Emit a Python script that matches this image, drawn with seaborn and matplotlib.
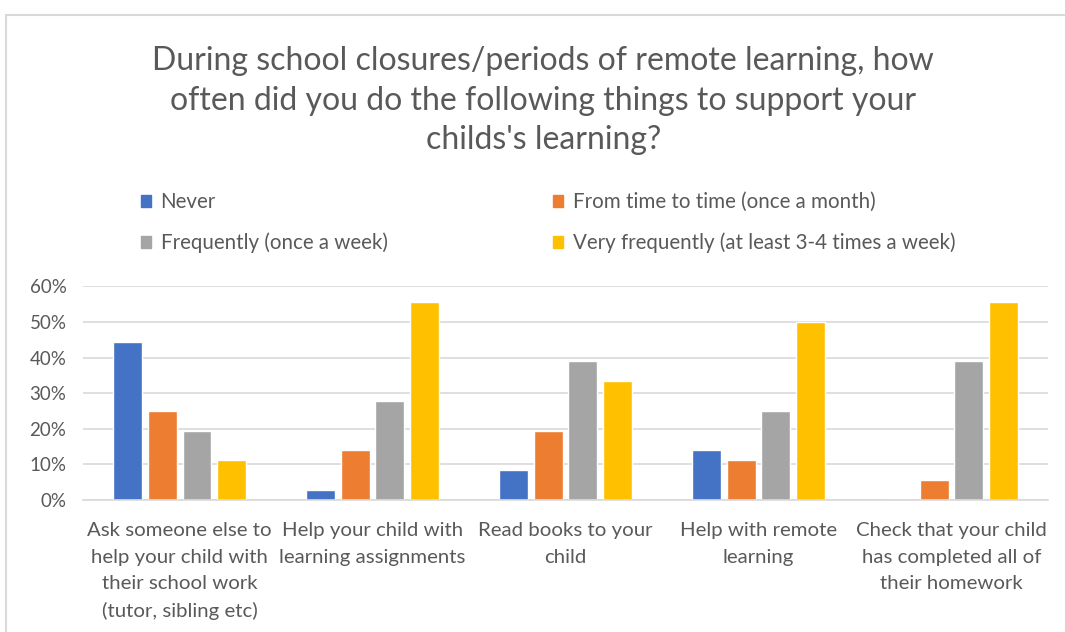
import matplotlib.pyplot as plt
import matplotlib.patches as mpatches
import matplotlib.ticker as mticker
import pandas as pd
import seaborn as sns

# data (shares of respondents)
activities = [
    "Ask someone else to\nhelp your child with\ntheir school work\n(tutor, sibling etc)",
    "Help your child with\nlearning assignments",
    "Read books to your\nchild",
    "Help with remote\nlearning",
    "Check that your child\nhas completed all of\ntheir homework",
]
frequencies = [
    "Never",
    "From time to time (once a month)",
    "Frequently (once a week)",
    "Very frequently (at least 3-4 times a week)",
]
never = [0.444, 0.028, 0.083, 0.139, 0.0]
from_time_to_time = [0.25, 0.139, 0.194, 0.111, 0.056]
frequently = [0.194, 0.278, 0.389, 0.25, 0.389]
very_frequently = [0.111, 0.556, 0.333, 0.50, 0.556]

colors = ["#4472C4", "#ED7D31", "#A5A5A5", "#FFC000"]
text_color = "#595959"
grid_color = "#D9D9D9"

series = [never, from_time_to_time, frequently, very_frequently]
rows = []
for freq, vals in zip(frequencies, series):
    for act, v in zip(activities, vals):
        rows.append({"activity": act, "frequency": freq, "share": v})
df = pd.DataFrame(rows)

sns.set_style("white")
plt.rcParams["font.family"] = ["Lato", "DejaVu Sans"]

fig = plt.figure(figsize=(10.65, 6.32), dpi=100)
ax = fig.add_axes([0.078, 0.209, 0.906, 0.338])

sns.barplot(
    data=df,
    x="activity",
    y="share",
    hue="frequency",
    hue_order=frequencies,
    palette=colors,
    saturation=1,
    width=0.72,
    gap=0.17,
    errorbar=None,
    ax=ax,
)

ax.set_ylim(0, 0.6)
ax.set_xlim(-0.5, 4.5)
ax.yaxis.set_major_locator(mticker.MultipleLocator(0.1))
ax.yaxis.set_major_formatter(mticker.PercentFormatter(1.0, decimals=0))
ax.grid(axis="y", color=grid_color, linewidth=1.2)
ax.set_axisbelow(True)
for side in ["top", "right", "left"]:
    ax.spines[side].set_visible(False)
ax.spines["bottom"].set_color(grid_color)
ax.spines["bottom"].set_linewidth(1.2)

ax.set_xlabel("")
ax.set_ylabel("")
ax.tick_params(axis="both", length=0, labelcolor=text_color)
ax.tick_params(axis="y", pad=12, labelsize=13.5)
ax.tick_params(axis="x", pad=16, labelsize=14.7)
for lbl in ax.get_xticklabels():
    lbl.set_horizontalalignment("center")
    lbl.set_linespacing(1.67)

ax.get_legend().remove()

handles = [mpatches.Patch(color=c) for c in colors]
leg_kw = dict(
    frameon=False,
    fontsize=14.8,
    labelcolor=text_color,
    handlelength=0.5,
    handleheight=0.5,
    handletextpad=0.45,
    labelspacing=1.0,
    loc="upper left",
)
leg1 = fig.legend([handles[0], handles[2]], [frequencies[0], frequencies[2]],
                  bbox_to_anchor=(0.115, 0.725), **leg_kw)
leg2 = fig.legend([handles[1], handles[3]], [frequencies[1], frequencies[3]],
                  bbox_to_anchor=(0.502, 0.725), **leg_kw)

fig.text(
    0.51, 0.927,
    "During school closures/periods of remote learning, how\n"
    "often did you do the following things to support your\n"
    "childs's learning?",
    ha="center", va="top", fontsize=23, color=text_color, linespacing=1.40,
)

# chart area border
fig.patches.append(mpatches.Rectangle(
    (0.006, -0.01), 1.1, 0.986, transform=fig.transFigure,
    fill=False, edgecolor=grid_color, linewidth=1.5,
))

fig.savefig("out.png", dpi=100, facecolor="white")
